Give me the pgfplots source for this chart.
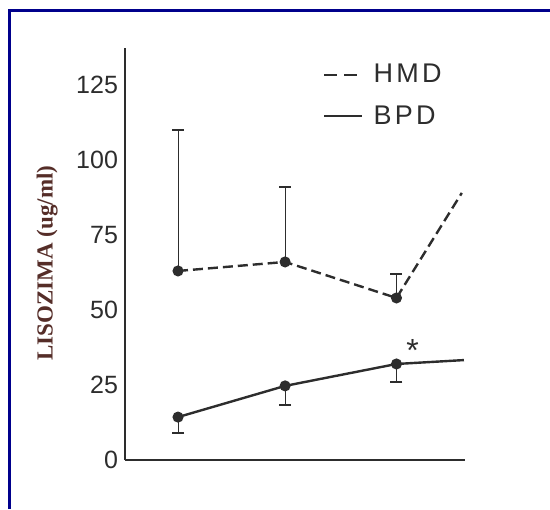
\documentclass[border=0pt]{standalone}
\usepackage{fontspec}
\setmainfont{Liberation Sans}
\newfontfamily\labelfont{Liberation Serif}
\usepackage{pgfplots}
\pgfplotsset{compat=1.18}
\definecolor{framenavy}{RGB}{0,0,140}
\definecolor{ink}{RGB}{45,45,45}
\definecolor{labelbrown}{RGB}{85,45,40}

\begin{document}
\begin{tikzpicture}
\useasboundingbox (0,0) rectangle (275pt,254.5pt);
\draw[framenavy, line width=1.5pt] (4.75pt,0) -- (4.75pt,249.25pt) -- (275pt,249.25pt);
\begin{axis}[
  at={(62.5pt,24.5pt)}, anchor=south west,
  scale only axis, width=170pt, height=206pt,
  xmin=0.505, xmax=3.68, ymin=0, ymax=137.3,
  axis lines=left,
  axis line style={ink, line width=1.1pt, -},
  xtick=\empty, ytick={0,25,...,125},
  major tick length=0pt,
  /pgf/number format/assume math mode=true,
  yticklabel style={font=\fontsize{12.5}{14}\selectfont, text=ink},
  ylabel={LISOZIMA (ug/ml)},
  ylabel style={at={(axis description cs:-0.229,0.478)}, anchor=center,
    font=\labelfont\bfseries\fontsize{11.5}{13}\selectfont, text=labelbrown},
  legend cell align=left,
  legend style={at={(axis description cs:0.582,0.972)}, anchor=north west,
    draw=none, fill=none, inner sep=0pt, row sep=6pt, text=ink,
    font=\fontsize{13.5}{15}\selectfont\addfontfeature{LetterSpace=12}},
  legend image code/.code={\draw[#1] (0pt,0pt) -- (19pt,0pt); \path (22pt,0pt);},
  clip=false,
]
% HMD (dashed), upper error bars only
\addplot[ink, line width=1.2pt, dash pattern=on 5pt off 2.5pt, forget plot]
  coordinates {(1,63) (2,66) (3.04,54) (3.65,89)};
\addplot[ink, line width=0.9pt, only marks, mark=*, mark size=2.3pt, forget plot,
  error bars/.cd, y dir=plus, y explicit,
  error mark options={rotate=90, mark size=3pt, line width=0.9pt}]
  coordinates {(1,63) +- (0,47) (2,66) +- (0,25) (3.04,54) +- (0,8)};
% BPD (solid), lower error bars only
\addplot[ink, line width=1.2pt, forget plot]
  coordinates {(1,14.3) (2,24.7) (3.04,32) (3.67,33.3)};
\addplot[ink, line width=0.9pt, only marks, mark=*, mark size=2.3pt, forget plot,
  error bars/.cd, y dir=minus, y explicit,
  error mark options={rotate=90, mark size=3pt, line width=0.9pt}]
  coordinates {(1,14.3) +- (0,5.3) (2,24.7) +- (0,6.4) (3.04,32) +- (0,6)};
\addlegendimage{ink, line width=1.2pt, dash pattern=on 6.5pt off 3.5pt}
\addlegendentry{HMD}
\addlegendimage{ink, line width=1.2pt}
\addlegendentry{BPD}
\node[anchor=north, inner sep=0pt, text=ink, font=\fontsize{16}{16}\selectfont]
  at (axis cs:3.19,40.3) {*};
\end{axis}
\end{tikzpicture}
\end{document}
